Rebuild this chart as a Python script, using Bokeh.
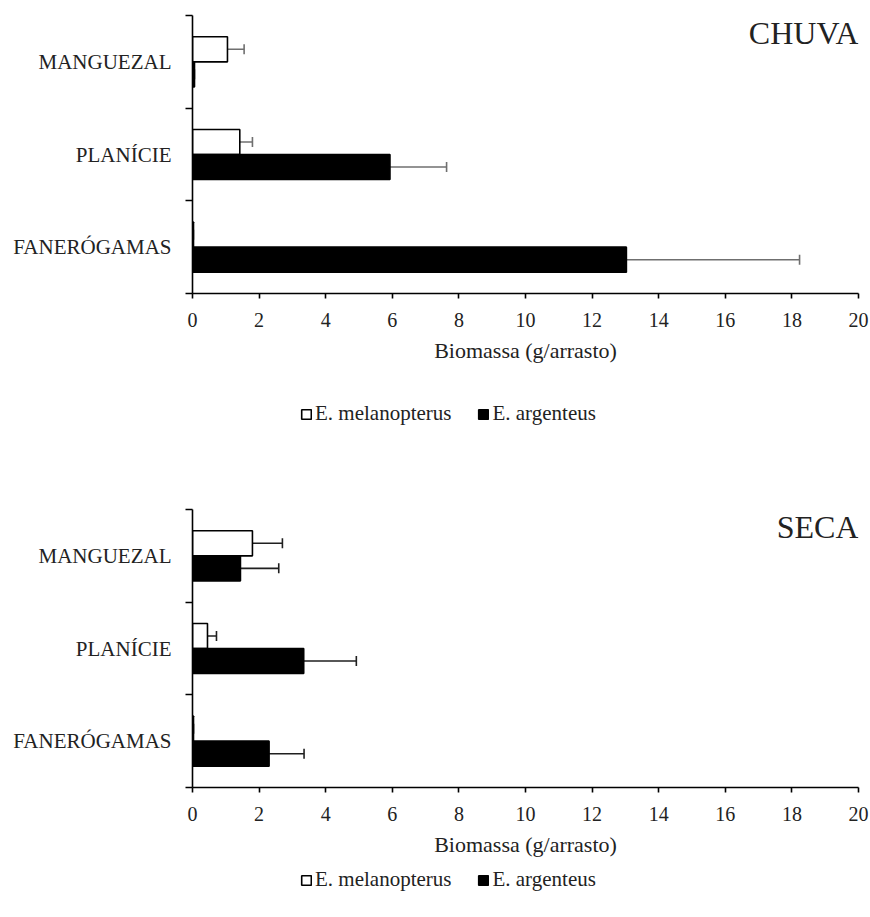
from bokeh.plotting import figure
from bokeh.models import (Range1d, FixedTicker, Whisker, TeeHead, ColumnDataSource,
                          Label, Legend, LegendItem)
from bokeh.layouts import column
from bokeh.embed import file_html
from bokeh.resources import INLINE

# ---- data ----
categories = ["MANGUEZAL", "PLANÍCIE", "FANERÓGAMAS"]   # top to bottom
series_names = ["E. melanopterus", "E. argenteus"]

chuva_melanopterus = [1.05, 1.42, 0.03]
chuva_melanopterus_err = [0.50, 0.38, 0.0]
chuva_argenteus = [0.06, 5.93, 13.03]
chuva_argenteus_err = [0.0, 1.70, 5.20]

seca_melanopterus = [1.80, 0.45, 0.03]
seca_melanopterus_err = [0.90, 0.27, 0.0]
seca_argenteus = [1.44, 3.34, 2.30]
seca_argenteus_err = [1.15, 1.58, 1.05]

x_ticks = [0, 2, 4, 6, 8, 10, 12, 14, 16, 18, 20]
x_label = "Biomassa (g/arrasto)"

FONT = "Liberation Serif"
TXT = "#222222"
BAR_H = 0.27
MEL_STYLE = dict(fill_color="white", line_color="black", line_width=1.6)
ARG_STYLE = dict(fill_color="black", line_color="black", line_width=1.6)


def make_panel(title, mel, mel_err, arg, arg_err, top_border, bottom_border, err_color):
    n = len(categories)
    centers = [n - 0.5 - i for i in range(n)]
    p = figure(frame_width=666, frame_height=278, output_backend="svg",
               toolbar_location=None, x_range=Range1d(0, 20), y_range=Range1d(0, n),
               min_border_left=192, min_border_right=12,
               min_border_top=top_border, min_border_bottom=bottom_border)
    p.outline_line_color = None
    p.xgrid.visible = False
    p.ygrid.visible = False
    p.background_fill_color = "white"
    p.border_fill_color = "white"

    mel_src = ColumnDataSource(dict(y=[c + BAR_H / 2 for c in centers], v=mel,
                                    up=[a + b for a, b in zip(mel, mel_err)]))
    arg_src = ColumnDataSource(dict(y=[c - BAR_H / 2 for c in centers], v=arg,
                                    up=[a + b for a, b in zip(arg, arg_err)]))

    p.hbar(y="y", right="v", left=0, height=BAR_H, source=mel_src, **MEL_STYLE)
    p.hbar(y="y", right="v", left=0, height=BAR_H, source=arg_src, **ARG_STYLE)

    for src in (mel_src, arg_src):
        w = Whisker(source=src, base="y", lower="v", upper="up", dimension="width",
                    line_color=err_color, line_width=1.6,
                    lower_head=None,
                    upper_head=TeeHead(size=10, line_color=err_color, line_width=1.6))
        p.add_layout(w)

    # x axis
    xa = p.xaxis[0]
    xa.ticker = FixedTicker(ticks=x_ticks)
    xa.axis_label = x_label
    xa.axis_label_text_font = FONT
    xa.axis_label_text_font_size = "22px"
    xa.axis_label_text_font_style = "normal"
    xa.axis_label_text_color = TXT
    xa.axis_label_standoff = 8
    xa.major_label_text_font = FONT
    xa.major_label_text_font_size = "20px"
    xa.major_label_text_color = TXT
    xa.major_label_standoff = 14
    xa.major_tick_out = 5
    xa.major_tick_in = 0
    xa.minor_tick_out = 0
    xa.axis_line_width = 1.6
    xa.major_tick_line_width = 1.6
    xa.axis_line_color = "black"

    # y axis: category names centered, ticks at category boundaries
    ya = p.yaxis[0]
    ya.ticker = FixedTicker(ticks=centers, minor_ticks=list(range(n + 1)))
    ya.major_label_overrides = {c: name for c, name in zip(centers, categories)}
    ya.major_tick_out = 0
    ya.major_tick_in = 0
    ya.minor_tick_out = 7
    ya.minor_tick_in = 0
    ya.minor_tick_line_width = 1.6
    ya.minor_tick_line_color = "black"
    ya.axis_line_width = 1.6
    ya.axis_line_color = "black"
    ya.major_label_text_font = FONT
    ya.major_label_text_font_size = "21px"
    ya.major_label_text_color = TXT
    ya.major_label_standoff = 14

    p.add_layout(Label(x=20, y=n, y_offset=-17, text=title, text_align="right",
                       text_baseline="alphabetic", text_font=FONT,
                       text_font_size="32px", text_color=TXT))
    return p


def make_legend_strip():
    lf = figure(frame_width=862, frame_height=40, output_backend="svg",
                toolbar_location=None, x_axis_type=None, y_axis_type=None,
                x_range=Range1d(0, 1), y_range=Range1d(0, 1), min_border=0)
    lf.outline_line_color = None
    lf.xgrid.visible = False
    lf.ygrid.visible = False
    # legend-only renderers: one swatch each, kept outside the visible range
    swatch_a = ColumnDataSource(dict(y=[-5], v=[0]))
    swatch_b = ColumnDataSource(dict(y=[-5], v=[0]))
    r_mel = lf.hbar(y="y", right="v", left=0, height=0.5, source=swatch_a, **MEL_STYLE)
    r_arg = lf.hbar(y="y", right="v", left=0, height=0.5, source=swatch_b, **ARG_STYLE)
    legend = Legend(items=[LegendItem(label=series_names[0], renderers=[r_mel]),
                           LegendItem(label=series_names[1], renderers=[r_arg])],
                    orientation="horizontal", location=(300, 10),
                    glyph_width=12, glyph_height=12, label_standoff=3, spacing=26,
                    padding=0, margin=0, border_line_color=None,
                    background_fill_alpha=0, label_text_font=FONT,
                    label_text_font_size="21px", label_text_color=TXT,
                    label_height=20)
    lf.add_layout(legend, "center")
    return lf


p1 = make_panel("CHUVA", chuva_melanopterus, chuva_melanopterus_err,
                chuva_argenteus, chuva_argenteus_err, 15, 103, "#6f6f6f")
l1 = make_legend_strip()
p2 = make_panel("SECA", seca_melanopterus, seca_melanopterus_err,
                seca_argenteus, seca_argenteus_err, 73, 75, "#1f1f1f")
l2 = make_legend_strip()

page = column(p1, l1, p2, l2, spacing=0)
open("out.html", "w").write(file_html(page, INLINE))
